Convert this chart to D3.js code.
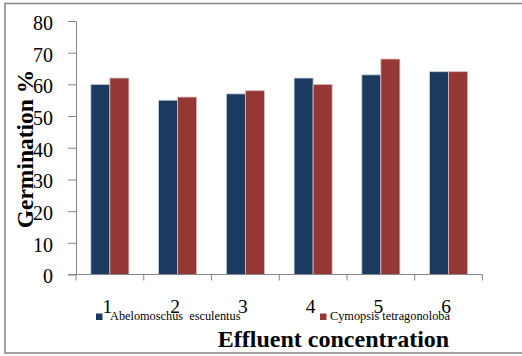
<!DOCTYPE html>
<html>
<head>
<meta charset="utf-8">
<script src="https://cdn.jsdelivr.net/npm/d3@7"></script>
<style>
  html, body { margin: 0; padding: 0; background: #fff; }
  svg { display: block; }
  text { font-family: "Liberation Serif", "DejaVu Serif", "Noto Serif", "Times New Roman", Times, serif; fill: #000; }
</style>
</head>
<body>
<svg id="chart" width="522" height="356"></svg>
<script>
// Germination % by effluent concentration for two crops
const categories = ["1", "2", "3", "4", "5", "6"];
const seriesNames = ["Abelomoschus  esculentus", "Cymopsis tetragonoloba"];
const abelomoschus = [60, 55, 57, 62, 63, 64];
const cymopsis = [62, 56, 58, 60, 68, 64];
const yTicks = [0, 10, 20, 30, 40, 50, 60, 70, 80];
const seriesColors = ["#1b3a5f", "#953735"];
const seriesEdges = ["#c9cede", "#dcbcbc"];

const seriesValues = [abelomoschus, cymopsis];
const rows = categories.map((c, i) => ({
  cat: c,
  vals: seriesNames.map((s, j) => ({ series: s, idx: j, value: seriesValues[j][i] }))
}));

const svg = d3.select("#chart");

// outer frame
svg.append("rect")
  .attr("x", 5).attr("y", 3.5).attr("width", 540).attr("height", 349.5)
  .attr("fill", "none").attr("stroke", "#8a8a8a").attr("stroke-width", 1.6);

const plot = { left: 76, right: 482.5, top: 21, bottom: 274.5 };

const x = d3.scaleBand().domain(categories).range([plot.left, plot.right]).padding(0);
const xs = d3.scaleBand().domain(seriesNames).range([0, x.bandwidth()])
  .paddingInner(0).paddingOuter(0.78);
const y = d3.scaleLinear().domain([0, 80]).range([plot.bottom, plot.top]);

// bars
const groups = svg.append("g").selectAll("g").data(rows).join("g")
  .attr("transform", d => `translate(${x(d.cat)},0)`);
groups.selectAll("rect").data(d => d.vals).join("rect")
  .attr("x", d => xs(d.series))
  .attr("y", d => y(d.value))
  .attr("width", xs.bandwidth())
  .attr("height", d => y(0) - y(d.value))
  .attr("fill", d => seriesColors[d.idx])
  .attr("stroke", d => seriesEdges[d.idx])
  .attr("stroke-width", 0.8);

// y axis
const yAxis = svg.append("g")
  .attr("transform", `translate(${plot.left},0)`)
  .call(d3.axisLeft(y).tickValues(yTicks).tickSizeInner(8).tickSizeOuter(0).tickPadding(15));
yAxis.attr("font-family", null);
yAxis.select(".domain").attr("stroke", "#868686");
yAxis.selectAll(".tick line").attr("stroke", "#868686");
yAxis.selectAll(".tick text")
  .attr("font-size", 20)
  .attr("dy", "0.42em")
  .attr("fill", "#000");

// x axis: baseline plus ticks at band boundaries
const xAxis = svg.append("g");
xAxis.append("line")
  .attr("x1", plot.left - 8).attr("x2", plot.right)
  .attr("y1", y(0)).attr("y2", y(0))
  .attr("stroke", "#868686");
const bounds = categories.map(c => x(c)).concat([x.range()[1]]);
xAxis.selectAll("line.tk").data(bounds).join("line")
  .attr("class", "tk")
  .attr("x1", d => d).attr("x2", d => d)
  .attr("y1", y(0)).attr("y2", y(0) + 6)
  .attr("stroke", "#868686");
xAxis.selectAll("text").data(categories).join("text")
  .attr("x", d => x(d) + x.bandwidth() / 2 - 2.5)
  .attr("y", 312.5)
  .attr("text-anchor", "middle")
  .attr("font-size", 19.5)
  .text(d => d);

// legend
const legendPos = [{ sx: 96, tx: 110 }, { sx: 320, tx: 330 }];
const legend = svg.append("g").selectAll("g").data(seriesNames).join("g");
legend.append("rect")
  .attr("x", (d, i) => legendPos[i].sx).attr("y", 313.5)
  .attr("width", 6.5).attr("height", 6.5)
  .attr("fill", (d, i) => seriesColors[i]);
legend.append("text")
  .attr("x", (d, i) => legendPos[i].tx).attr("y", 320)
  .attr("font-size", 12.3)
  .style("white-space", "pre")
  .text(d => d);

// axis titles
svg.append("text")
  .attr("x", 333.5).attr("y", 346.5)
  .attr("text-anchor", "middle")
  .attr("font-size", 24).attr("font-weight", "bold")
  .text("Effluent concentration");

svg.append("text")
  .attr("transform", "translate(33,149) rotate(-90)")
  .attr("text-anchor", "middle")
  .attr("font-size", 23.5).attr("font-weight", "bold")
  .text("Germination %");
</script>
</body>
</html>
